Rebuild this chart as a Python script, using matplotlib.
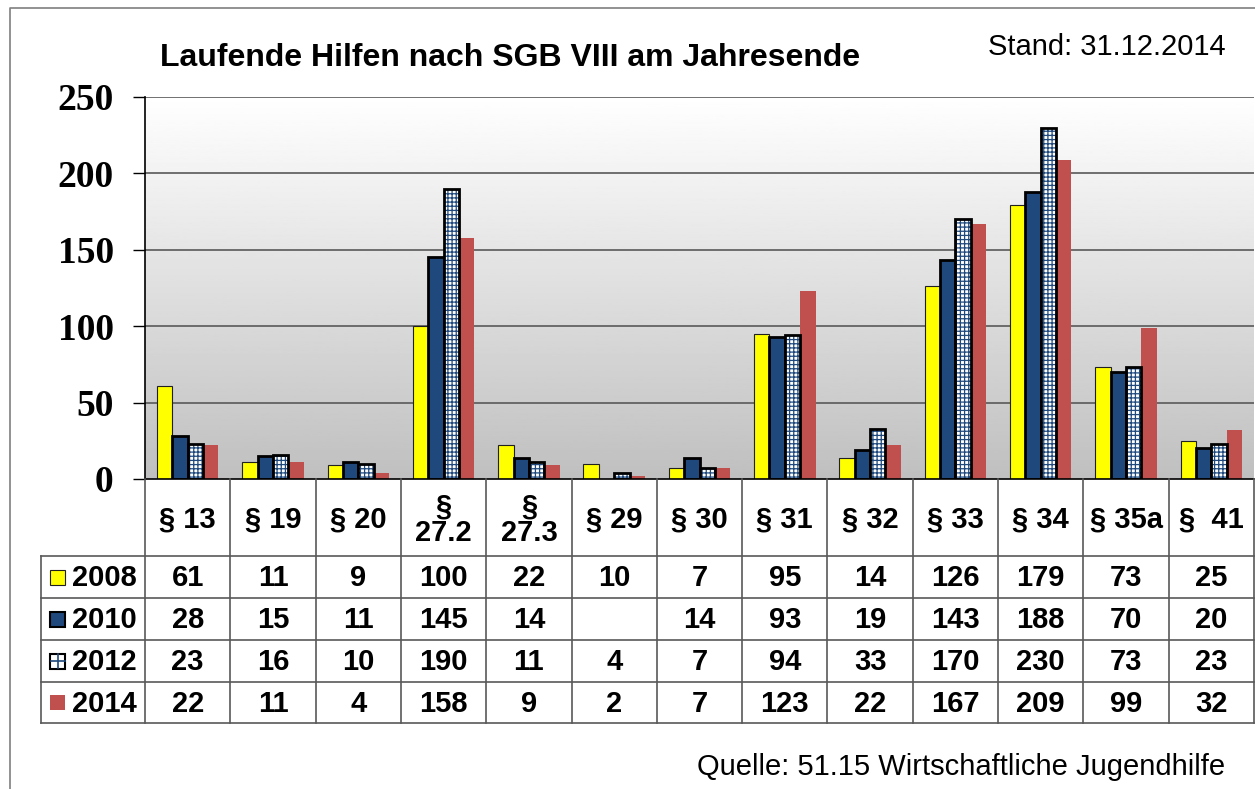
"""Laufende Hilfen nach SGB VIII am Jahresende - Balkendiagramm mit Datentabelle"""

import numpy as np
import matplotlib
matplotlib.use("Agg")
import matplotlib.pyplot as plt
import matplotlib.transforms as mtransforms
from matplotlib.lines import Line2D
from matplotlib.patches import Rectangle

# Daten
categories = ["§ 13", "§ 19", "§ 20", "§\n27.2", "§\n27.3", "§ 29", "§ 30",
              "§ 31", "§ 32", "§ 33", "§ 34", "§ 35a", "§  41"]
years = ["2008", "2010", "2012", "2014"]
v2008 = [61, 11, 9, 100, 22, 10, 7, 95, 14, 126, 179, 73, 25]
v2010 = [28, 15, 11, 145, 14, None, 14, 93, 19, 143, 188, 70, 20]
v2012 = [23, 16, 10, 190, 11, 4, 7, 94, 33, 170, 230, 73, 23]
v2014 = [22, 11, 4, 158, 9, 2, 7, 123, 22, 167, 209, 99, 32]
series = [v2008, v2010, v2012, v2014]
y_ticks = [0, 50, 100, 150, 200, 250]

title = "Laufende Hilfen nach SGB VIII am Jahresende"
stand = "Stand: 31.12.2014"
quelle = "Quelle: 51.15 Wirtschaftliche Jugendhilfe"

# Stil
W, H, DPI = 1255, 789, 100
SANS = "Liberation Sans"
SERIF = "Liberation Serif"
YELLOW = "#FFFF00"
NAVY = "#1F497D"
RED = "#C0504D"
LINE = "#595959"
TXT = 21
bar_w = 0.18
plt.rcParams["hatch.linewidth"] = 0.9

fig = plt.figure(figsize=(W / DPI, H / DPI), dpi=DPI, facecolor="white")

# Pixel-Koordinaten (oben links = 0,0) fuer Rahmen und Beschriftung
px = mtransforms.Affine2D().scale(1, -1).translate(0, H).scale(1 / W, 1 / H) + fig.transFigure

# Hauptdiagramm
x_left, x_right, y_top, y_bot = 145, 1254, 97, 479
ax = fig.add_axes([x_left / W, (H - y_bot) / H, (x_right - x_left) / W, (y_bot - y_top) / H])
ax.set_xlim(-0.5, len(categories) - 0.5)
ax.set_ylim(0, 250)

# Verlauf im Hintergrund
grad = np.linspace(0.75, 1.0, 256).reshape(-1, 1)
ax.imshow(grad, cmap="gray", vmin=0, vmax=1, aspect="auto", origin="lower",
          extent=(-0.5, len(categories) - 0.5, 0, 250), zorder=0)

for t in y_ticks[1:]:
    ax.axhline(t, color=LINE, lw=1.2, zorder=1)

x = np.arange(len(categories))
vals = [np.array([np.nan if v is None else v for v in s], dtype=float) for s in series]

ax.bar(x - 1.5 * bar_w, vals[0], bar_w, color=YELLOW, edgecolor="#202020", lw=0.8, zorder=3)
ax.bar(x - 0.5 * bar_w, vals[1], bar_w, color=NAVY, edgecolor="black", lw=2.0, zorder=3)
ax.bar(x + 0.5 * bar_w, vals[2], bar_w, color="white", edgecolor=NAVY, lw=0,
       hatch="++++", zorder=3)
ax.bar(x + 0.5 * bar_w, vals[2], bar_w, color="none", edgecolor="black", lw=2.0, zorder=4)
ax.bar(x + 1.5 * bar_w, vals[3], bar_w, color=RED, edgecolor="none", zorder=3)

ax.set_yticks(y_ticks)
ax.set_yticklabels([str(t) for t in y_ticks], fontsize=27, fontweight="bold", family=SERIF)
ax.tick_params(axis="y", direction="out", length=8.5, width=1, pad=14)
ax.set_xticks([])
for side in ["top", "right"]:
    ax.spines[side].set_visible(False)
ax.spines["left"].set_linewidth(1.2)
ax.spines["bottom"].set_linewidth(1.2)
ax.spines["left"].set_zorder(5)
ax.spines["bottom"].set_zorder(5)

# Datentabelle
tab_left, tab_bot = 41, 723
cat_px = (x_right - x_left) / len(categories)
leg_w = (x_left - tab_left) / cat_px
tab = fig.add_axes([tab_left / W, (H - tab_bot) / H, (x_right - tab_left) / W, (tab_bot - y_bot) / H])
tab.set_xlim(-0.5 - leg_w, len(categories) - 0.5)
tab.set_ylim(tab_bot - y_bot, 0)
tab.axis("off")
rows = [0, 77, 119, 161, 203, 244]

for k in range(len(categories) + 1):
    tab.plot([k - 0.5, k - 0.5], [rows[0], rows[-1]], color=LINE, lw=1.2, clip_on=False)
tab.plot([-0.5 - leg_w, -0.5 - leg_w], [rows[1], rows[-1]], color=LINE, lw=1.2, clip_on=False)
for r in rows[1:]:
    tab.plot([-0.5 - leg_w, len(categories) - 0.5], [r, r], color=LINE, lw=1.2, clip_on=False)

for i, c in enumerate(categories):
    tab.text(i, (rows[0] + rows[1]) / 2 + 2, c, ha="center", va="center", fontsize=TXT,
             fontweight="bold", family=SANS, linespacing=0.92)

for j, s in enumerate(series):
    yc = (rows[j + 1] + rows[j + 2]) / 2
    for i, v in enumerate(s):
        if v is None:
            continue
        tab.text(i, yc + 1, str(v), ha="center", va="center", fontsize=TXT,
                 fontweight="bold", family=SANS)

# Legendensymbole in der Tabelle
key_styles = [
    dict(facecolor=YELLOW, edgecolor="#202020", lw=0.8),
    dict(facecolor=NAVY, edgecolor="black", lw=1.5),
    dict(facecolor="white", edgecolor="black", lw=1.5),
    dict(facecolor=RED, edgecolor="none", lw=0),
]
for j, (yr, st) in enumerate(zip(years, key_styles)):
    yc = (rows[j + 1] + rows[j + 2]) / 2 + y_bot
    fig.add_artist(Rectangle((50, yc - 7.5), 15, 15, transform=px, **st))
    if j == 2:
        # Kreuz als Gittersymbol
        fig.add_artist(Line2D([57.5, 57.5], [yc - 7, yc + 7], transform=px, color=NAVY, lw=1.2))
        fig.add_artist(Line2D([50.5, 64.5], [yc, yc], transform=px, color=NAVY, lw=1.2))
    fig.text(72, yc + 1, yr, transform=px, ha="left", va="center", fontsize=TXT,
             fontweight="bold", family=SANS)

# Titel und Anmerkungen
fig.text(160, 66, title, transform=px, ha="left", va="baseline", fontsize=23,
         fontweight="bold", family=SANS)
fig.text(1226, 55, stand, transform=px, ha="right", va="baseline", fontsize=21, family=SANS)
fig.text(1225, 775, quelle, transform=px, ha="right", va="baseline", fontsize=21, family=SANS)

# Aeusserer Rahmen
fig.add_artist(Line2D([10, 10, W], [H, 8, 8], transform=px, color="#7F7F7F", lw=1.2))

fig.savefig("out.png", dpi=DPI, facecolor="white")
